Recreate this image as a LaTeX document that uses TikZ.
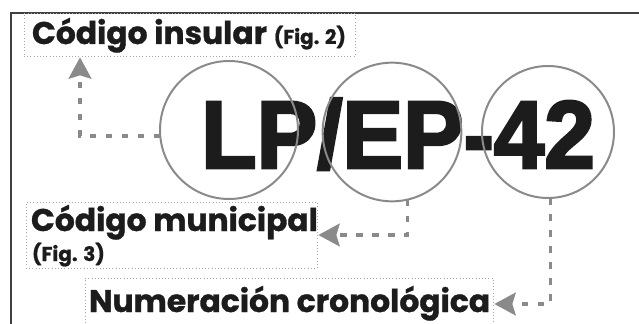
\documentclass[tikz,border=0pt]{standalone}
\usepackage{fontspec}
\setmainfont{Poppins}[BoldFeatures={FakeBold=1}]
\newfontfamily\heavyfont{Liberation Sans}[BoldFeatures={FakeBold=3}]
\usetikzlibrary{arrows.meta,calc}
\definecolor{ink}{HTML}{1C1C1C}
\definecolor{ringgray}{HTML}{8A8A8A}
\definecolor{dotgray}{HTML}{A8A8A8}
\newcommand\figfont{\bfseries\fontsize{15}{16}\selectfont}

\begin{document}
\begin{tikzpicture}
[
x=0.75pt, y=-0.75pt,
every node/.style={inner sep=0pt, outer sep=0pt},
ring/.style={circle, draw=ringgray, line width=1.5pt},
infobox/.style={draw=dotgray, dotted, line width=0.4pt, anchor=north west},
caption/.style={anchor=base west, text=ink, font=\bfseries\fontsize{23.5}{26}\selectfont},
pointer/.style={draw=ringgray, line width=2.6pt, dash pattern=on 5pt off 7pt,
  -{Stealth[length=16pt, width=17pt, inset=2.5pt]}, shorten >=1pt}
]
\useasboundingbox (0,0) rectangle (639,324);
\draw[line width=1pt, draw=darkgray] (11,324) -- (11,13) -- (639,13);

% the code itself
\node[anchor=base, text=ink, font=\heavyfont\bfseries\fontsize{72}{72}\selectfont] (code) at (398,168) {\scalebox{0.946}[1]{LP/EP-42}};
\node[ring, minimum size=103.5pt] (lp) at (229,130) {};
\node[ring, minimum size=104pt] (ep) at (392,132) {};
\node[ring, minimum size=99pt] (num) at (548,132) {};

% labels
\node[infobox, minimum width=248.25pt, minimum height=32.25pt] (insular) at (24,13) {};
\node[caption] (insulartxt) at (32,44) {Código insular {\figfont (Fig. 2)}};

\node[infobox, minimum width=218.25pt, minimum height=49.5pt] (municipal) at (26,202) {};
\node[caption] (municipaltxt) at (31,231) {Código municipal};
\node[anchor=base west, text=ink, font=\figfont] (municipalfig) at (32,261) {(Fig. 3)};

\node[infobox, minimum width=306pt, minimum height=39pt] (numer) at (85,278) {};
\node[caption] (numertxt) at (89,312) {Numeración cronológica};

% arrows
\draw[pointer] (lp.185) -| ($(insular.south west)+(56,0)$);
\draw[pointer] (ep.283) |- (municipal.east);
\draw[pointer] (num.272) |- (numer.east);
\end{tikzpicture}
\end{document}
